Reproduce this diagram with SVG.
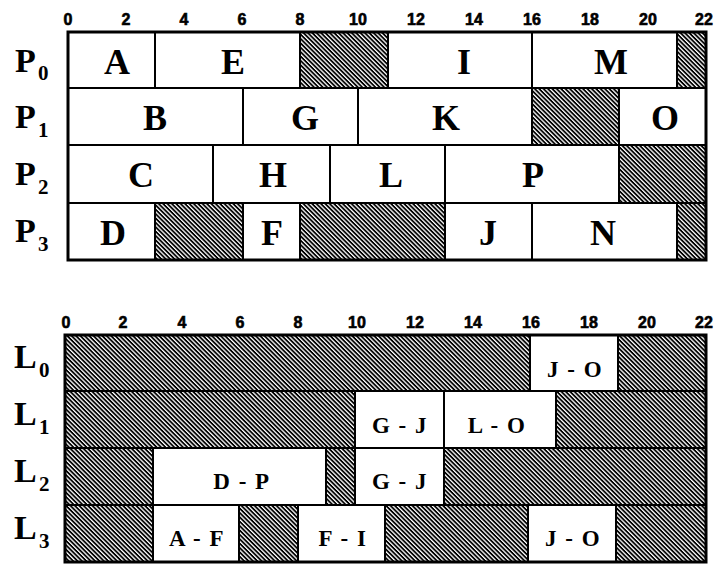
<svg xmlns="http://www.w3.org/2000/svg" width="722" height="569" viewBox="0 0 722 569">
<defs>
<pattern id="hatch" width="3.1" height="3.1" patternUnits="userSpaceOnUse" patternTransform="rotate(45)">
<rect width="3.1" height="3.1" fill="#fff"/>
<rect width="3.1" height="1.8" fill="#000"/>
</pattern>
</defs>
<style>
.h{fill:url(#hatch);stroke:#000;stroke-width:2}
.c{fill:#fff;stroke:#000;stroke-width:2}
.frame{fill:none;stroke:#000;stroke-width:3}
.tick{font-family:"Liberation Sans",Arial,sans-serif;font-weight:bold;font-size:16px;text-anchor:middle;stroke:#000;stroke-width:0.6}
.big{font-family:"Liberation Serif","Times New Roman",serif;font-weight:bold;font-size:36px;text-anchor:middle}
.row{font-family:"Liberation Serif","Times New Roman",serif;font-weight:bold;font-size:34px}
.sub{font-family:"Liberation Serif","Times New Roman",serif;font-weight:bold;font-size:21px}
.sm{font-family:"Liberation Serif","Times New Roman",serif;font-weight:bold;font-size:23px;text-anchor:middle;letter-spacing:1.5px}
</style>
<rect width="722" height="569" fill="#fff"/>

<!-- Top chart axis -->
<g id="axis-top">
<text class="tick" x="68" y="25">0</text>
<text class="tick" x="126" y="25">2</text>
<text class="tick" x="184" y="25">4</text>
<text class="tick" x="242" y="25">6</text>
<text class="tick" x="300" y="25">8</text>
<text class="tick" x="358" y="25">10</text>
<text class="tick" x="416" y="25">12</text>
<text class="tick" x="474" y="25">14</text>
<text class="tick" x="532" y="25">16</text>
<text class="tick" x="590" y="25">18</text>
<text class="tick" x="648" y="25">20</text>
<text class="tick" x="704" y="25">22</text>
</g>

<g id="row-labels-top">
<text class="row" x="15" y="72">P</text><text class="sub" x="38" y="80">0</text>
<text class="row" x="15" y="128">P</text><text class="sub" x="38" y="137">1</text>
<text class="row" x="15" y="185">P</text><text class="sub" x="38" y="194">2</text>
<text class="row" x="15" y="242">P</text><text class="sub" x="38" y="251">3</text>
</g>

<!-- P0 -->
<g id="A"><rect class="c" x="68" y="32" width="87" height="56"/><text class="big" x="117" y="74">A</text></g>
<g id="E"><rect class="c" x="155" y="32" width="145" height="56"/><text class="big" x="233" y="74">E</text></g>
<g id="idle-p0-1"><rect class="h" x="300" y="32" width="88" height="56"/></g>
<g id="I"><rect class="c" x="388" y="32" width="144" height="56"/><text class="big" x="464" y="74">I</text></g>
<g id="M"><rect class="c" x="532" y="32" width="145" height="56"/><text class="big" x="611" y="74">M</text></g>
<g id="idle-p0-2"><rect class="h" x="677" y="32" width="29" height="56"/></g>

<!-- P1 -->
<g id="B"><rect class="c" x="68" y="88" width="175" height="57"/><text class="big" x="155" y="130">B</text></g>
<g id="G"><rect class="c" x="243" y="88" width="115" height="57"/><text class="big" x="305" y="130">G</text></g>
<g id="K"><rect class="c" x="358" y="88" width="174" height="57"/><text class="big" x="446" y="130">K</text></g>
<g id="idle-p1"><rect class="h" x="532" y="88" width="87" height="57"/></g>
<g id="O"><rect class="c" x="619" y="88" width="87" height="57"/><text class="big" x="665" y="130">O</text></g>

<!-- P2 -->
<g id="C"><rect class="c" x="68" y="145" width="145" height="58"/><text class="big" x="141" y="187">C</text></g>
<g id="H"><rect class="c" x="213" y="145" width="117" height="58"/><text class="big" x="273" y="187">H</text></g>
<g id="L"><rect class="c" x="330" y="145" width="115" height="58"/><text class="big" x="391" y="187">L</text></g>
<g id="P"><rect class="c" x="445" y="145" width="174" height="58"/><text class="big" x="533" y="187">P</text></g>
<g id="idle-p2"><rect class="h" x="619" y="145" width="87" height="58"/></g>

<!-- P3 -->
<g id="D"><rect class="c" x="68" y="203" width="87" height="57"/><text class="big" x="113" y="245">D</text></g>
<g id="idle-p3-1"><rect class="h" x="155" y="203" width="88" height="57"/></g>
<g id="F"><rect class="c" x="243" y="203" width="57" height="57"/><text class="big" x="272" y="245">F</text></g>
<g id="idle-p3-2"><rect class="h" x="300" y="203" width="145" height="57"/></g>
<g id="J"><rect class="c" x="445" y="203" width="87" height="57"/><text class="big" x="488" y="245">J</text></g>
<g id="N"><rect class="c" x="532" y="203" width="145" height="57"/><text class="big" x="603" y="245">N</text></g>
<g id="idle-p3-3"><rect class="h" x="677" y="203" width="29" height="57"/></g>

<rect class="frame" x="68" y="32" width="638" height="228"/>

<!-- Bottom chart axis -->
<g id="axis-bottom">
<text class="tick" x="66" y="328">0</text>
<text class="tick" x="123" y="328">2</text>
<text class="tick" x="182" y="328">4</text>
<text class="tick" x="240" y="328">6</text>
<text class="tick" x="298" y="328">8</text>
<text class="tick" x="357" y="328">10</text>
<text class="tick" x="415" y="328">12</text>
<text class="tick" x="473" y="328">14</text>
<text class="tick" x="531" y="328">16</text>
<text class="tick" x="589" y="328">18</text>
<text class="tick" x="647" y="328">20</text>
<text class="tick" x="704" y="328">22</text>
</g>

<g id="row-labels-bottom">
<text class="row" x="14" y="368">L</text><text class="sub" x="39" y="377">0</text>
<text class="row" x="14" y="425">L</text><text class="sub" x="39" y="434">1</text>
<text class="row" x="14" y="482">L</text><text class="sub" x="39" y="491">2</text>
<text class="row" x="14" y="539">L</text><text class="sub" x="39" y="548">3</text>
</g>

<!-- L0 -->
<g id="idle-l0-1"><rect class="h" x="65" y="335" width="465" height="56"/></g>
<g id="L0-JO"><rect class="c" x="530" y="335" width="88" height="56"/><text class="sm" x="575" y="377">J - O</text></g>
<g id="idle-l0-2"><rect class="h" x="618" y="335" width="88" height="56"/></g>

<!-- L1 -->
<g id="idle-l1-1"><rect class="h" x="65" y="391" width="290" height="57"/></g>
<g id="L1-GJ"><rect class="c" x="355" y="391" width="89" height="57"/><text class="sm" x="400" y="433">G - J</text></g>
<g id="L1-LO"><rect class="c" x="444" y="391" width="112" height="57"/><text class="sm" x="497" y="433">L - O</text></g>
<g id="idle-l1-2"><rect class="h" x="556" y="391" width="150" height="57"/></g>

<!-- L2 -->
<g id="idle-l2-1"><rect class="h" x="65" y="448" width="88" height="57"/></g>
<g id="L2-DP"><rect class="c" x="153" y="448" width="173" height="57"/><text class="sm" x="242" y="489">D - P</text></g>
<g id="idle-l2-2"><rect class="h" x="326" y="448" width="29" height="57"/></g>
<g id="L2-GJ"><rect class="c" x="355" y="448" width="89" height="57"/><text class="sm" x="400" y="489">G - J</text></g>
<g id="idle-l2-3"><rect class="h" x="444" y="448" width="262" height="57"/></g>

<!-- L3 -->
<g id="idle-l3-1"><rect class="h" x="65" y="505" width="88" height="57"/></g>
<g id="L3-AF"><rect class="c" x="153" y="505" width="86" height="57"/><text class="sm" x="197" y="546">A - F</text></g>
<g id="idle-l3-2"><rect class="h" x="239" y="505" width="59" height="57"/></g>
<g id="L3-FI"><rect class="c" x="298" y="505" width="87" height="57"/><text class="sm" x="343" y="546">F - I</text></g>
<g id="idle-l3-3"><rect class="h" x="385" y="505" width="143" height="57"/></g>
<g id="L3-JO"><rect class="c" x="528" y="505" width="88" height="57"/><text class="sm" x="573" y="546">J - O</text></g>
<g id="idle-l3-4"><rect class="h" x="616" y="505" width="90" height="57"/></g>

<rect class="frame" x="65" y="335" width="641" height="227"/>

<g id="connectors"/>
</svg>
